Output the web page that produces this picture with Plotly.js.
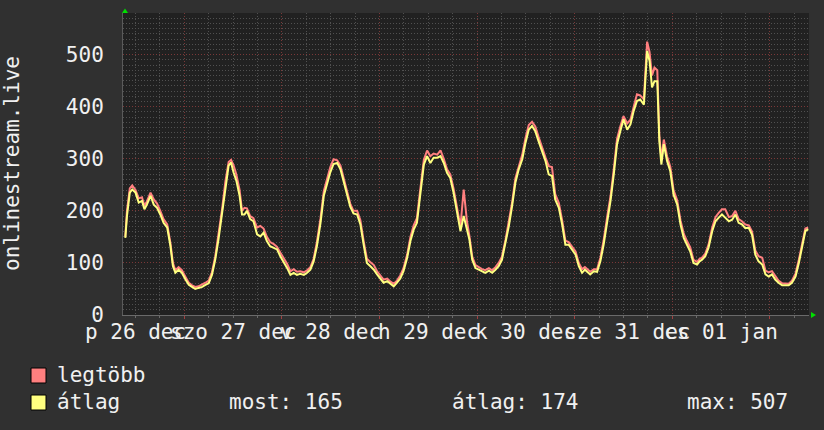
<!DOCTYPE html>
<html>
<head>
<meta charset="utf-8">
<script src="https://cdn.plot.ly/plotly-3.0.1.min.js"></script>
<style>html,body{margin:0;padding:0;background:#303030;}#chart{width:824px;height:430px;}</style>
</head>
<body>
<div id="chart"></div>
<script>
// Time in hours since 26 Dec 00:00
const hours = [9.5,9.9,10.6,11.2,12.0,12.8,13.6,14.2,14.8,15.7,16.5,17.3,18.1,18.9,19.8,20.6,21.2,21.8,22.6,23.4,
24.3,25.1,25.9,26.7,27.5,28.4,29.2,30.0,30.8,31.6,32.4,33.3,34.1,34.9,35.5,36.1,36.8,37.6,38.2,38.8,
39.4,40.2,41.0,41.9,42.7,43.5,44.3,45.1,46.0,46.8,47.6,48.4,49.3,50.1,50.9,51.7,52.5,53.4,54.2,55.0,
55.8,56.6,57.5,58.3,59.1,59.9,60.7,61.6,62.4,63.2,64.0,64.8,65.6,66.5,67.3,68.1,68.9,69.7,70.6,71.4,
72.2,73.0,73.9,74.7,75.5,76.3,77.1,77.9,78.8,79.6,80.4,81.2,82.0,82.9,83.7,84.5,85.3,86.2,87.0,87.8,
88.6,89.4,90.2,91.1,91.9,92.7,93.5,94.1,94.8,95.6,96.4,97.2,98.0,98.9,99.7,100.5,101.3,102.1,103.0,103.8,
104.6,105.4,106.2,107.1,107.9,108.7,109.5,110.3,111.1,112.0,112.8,113.6,114.4,115.2,116.1,116.9,117.7,118.5,119.3,120.2,
121.0,121.8,122.5,123.0,123.8,124.7,125.5,126.3,127.1,128.0,128.8,129.6,130.4,131.2,132.0,132.9,133.7,134.5,135.3,136.1,
137.0,137.8,138.4,139.0,139.6,140.3,140.8,141.3,141.9,142.7,143.5,144.3,145.2,146.0,146.8,147.6,148.4,149.2,150.1,150.7,
151.3,152.1,152.9,153.8,154.6,155.4,156.2,157.0,157.9,158.7,159.5,160.3,161.1,161.9,162.8,163.6,164.4,165.2,166.1,166.9,
167.7,168.5,169.3,170.1,171.0,171.8,172.6,173.4,174.3,175.1,175.9,176.7,177.4];

// "átlag" (average)
const atlag = [148,190,235,241,235,216,219,203,212,229,212,206,193,177,168,132,94,81,87,81,
68,58,54,50,52,54,58,61,77,106,145,196,248,287,293,274,258,229,193,193,
200,184,180,155,151,158,142,132,129,126,113,103,90,77,81,77,79,77,81,87,
103,132,177,229,254,274,290,292,280,258,232,208,195,193,174,135,100,94,87,78,
71,62,65,60,55,62,70,84,110,142,164,177,231,289,305,292,302,302,305,292,
273,263,235,193,161,190,167,145,106,90,87,84,81,85,81,87,94,106,138,171,
209,254,279,299,331,356,363,353,334,312,296,270,267,222,206,174,135,135,126,116,
94,81,87,83,78,84,83,103,135,180,219,270,328,353,376,356,366,392,411,414,
404,507,488,437,449,449,334,289,328,296,276,231,212,174,148,135,122,100,97,103,
106,113,129,161,180,187,193,187,180,183,193,177,174,167,167,154,116,103,97,78,
74,78,68,62,57,57,57,62,74,100,129,161,165];

// "legtöbb" (maximum)
const legtobb = [150,200,243,249,240,224,226,210,218,235,222,214,200,184,174,138,100,86,92,86,
73,62,57,54,55,58,62,66,82,112,152,204,256,294,298,288,270,240,200,206,
205,190,186,168,171,166,150,140,136,131,120,110,98,84,88,83,84,82,86,92,
108,140,186,238,262,284,299,297,287,265,238,214,200,200,182,142,108,102,96,84,
76,68,70,64,60,66,76,90,116,150,172,186,240,298,316,305,310,308,316,300,
280,270,243,200,170,241,180,152,112,96,92,88,86,90,86,92,100,112,145,178,
216,262,286,308,340,365,371,362,342,320,303,286,284,232,215,182,143,140,132,122,
100,88,92,88,83,88,88,110,143,190,228,280,338,362,382,368,375,400,424,422,
414,525,505,460,475,470,345,300,337,305,285,240,220,182,156,142,130,106,102,108,
110,118,135,168,188,196,203,203,188,190,200,184,180,174,172,160,124,113,110,85,
82,84,74,66,61,60,60,66,80,106,136,166,168];

const dayLabelHours = [12,36,60,84,108,132.8,156];
const dayLabels = ['p 26 dec','szo 27 dec','v 28 dec','h 29 dec','k 30 dec','sze 31 dec','cs 01 jan'];
const seriesNames = ['legtöbb','átlag'];
const seriesColors = ['#ff7f7f','#ffff80'];
const statsLabels = ['most: 165','átlag: 174','max: 507'];
const yTitle = 'onlinestream.live';

const W = 824, H = 430;
const M = {l:123, r:15, t:13, b:115};
const pw = W - M.l - M.r, ph = H - M.t - M.b;
const px = x => (x - M.l) / pw;
const py = y => (H - M.b - y) / ph;
const mono = 'DejaVu Sans Mono';
const txt = '#f0f0f0';

const traces = [
  {x: hours, y: legtobb, type:'scatter', mode:'lines', name: seriesNames[0],
   line:{color: seriesColors[0], width:2}, hoverinfo:'skip'},
  {x: hours, y: atlag, type:'scatter', mode:'lines', name: seriesNames[1],
   line:{color: seriesColors[1], width:2}, hoverinfo:'skip'}
];

const annotations = [];
dayLabels.forEach((t,i) => annotations.push({
  x: dayLabelHours[i], xref:'x', y: py(332), yref:'paper', text: t, showarrow:false,
  xanchor:'center', yanchor:'middle', font:{family:mono, size:21, color:txt}
}));
annotations.push({x: px(12), y: py(164), xref:'paper', yref:'paper', text: yTitle, textangle:-90,
  showarrow:false, xanchor:'center', yanchor:'middle', font:{family:mono, size:21, color:txt}});
annotations.push({x: px(55), y: py(375), xref:'paper', yref:'paper', text: seriesNames[0], showarrow:false,
  xanchor:'left', yanchor:'middle', font:{family:mono, size:21, color:txt}});
annotations.push({x: px(55), y: py(402), xref:'paper', yref:'paper', text: seriesNames[1], showarrow:false,
  xanchor:'left', yanchor:'middle', font:{family:mono, size:21, color:txt}});
[227, 450, 685].forEach((xx,i) => annotations.push({x: px(xx), y: py(402), xref:'paper', yref:'paper',
  text: statsLabels[i], showarrow:false, xanchor:'left', yanchor:'middle', font:{family:mono, size:21, color:txt}}));

const shapes = [
  {type:'rect', xref:'paper', yref:'paper', x0:px(31), x1:px(46), y0:py(368), y1:py(383),
   fillcolor: seriesColors[0], line:{color:'#000000', width:1}},
  {type:'rect', xref:'paper', yref:'paper', x0:px(31), x1:px(46), y0:py(395), y1:py(410),
   fillcolor: seriesColors[1], line:{color:'#000000', width:1}},
  {type:'path', xref:'paper', yref:'paper', xsizemode:'pixel', ysizemode:'pixel', xanchor:0, yanchor:1,
   path:'M -1,0 L 5,0 L 2,4.5 Z', fillcolor:'#00e000', line:{width:0}},
  {type:'path', xref:'paper', yref:'paper', xsizemode:'pixel', ysizemode:'pixel', xanchor:1, yanchor:0,
   path:'M 2,3 L 2,-3 L 7,0 Z', fillcolor:'#00e000', line:{width:0}}
];

const layout = {
  width: W, height: H,
  paper_bgcolor:'#303030', plot_bgcolor:'#212121',
  margin: M, showlegend:false,
  xaxis:{range:[8.93,177.6], tick0:0, dtick:24, showgrid:true, gridcolor:'#7a3838', griddash:'1px,2px', gridwidth:1,
    showticklabels:false, ticks:'outside', ticklen:3, tickcolor:'#a04040', zeroline:false,
    showline:true, linecolor:'#6a6a6a', linewidth:1,
    minor:{dtick:6, showgrid:true, gridcolor:'#505050', griddash:'1px,2px', ticks:'outside', ticklen:2, tickcolor:'#6a6a6a'}},
  yaxis:{range:[0,580], tick0:0, dtick:100, showgrid:true, gridcolor:'#7a3838', griddash:'1px,2px', gridwidth:1,
    tickfont:{family:mono, size:21, color:txt}, ticks:'', ticklabelstandoff:14, zeroline:false,
    showline:true, linecolor:'#5a5a5a', linewidth:1,
    minor:{dtick:10, showgrid:true, gridcolor:'#505050', griddash:'1px,2px'}},
  annotations, shapes
};

Plotly.newPlot('chart', traces, layout, {staticPlot:true, displayModeBar:false});
</script>
</body>
</html>
